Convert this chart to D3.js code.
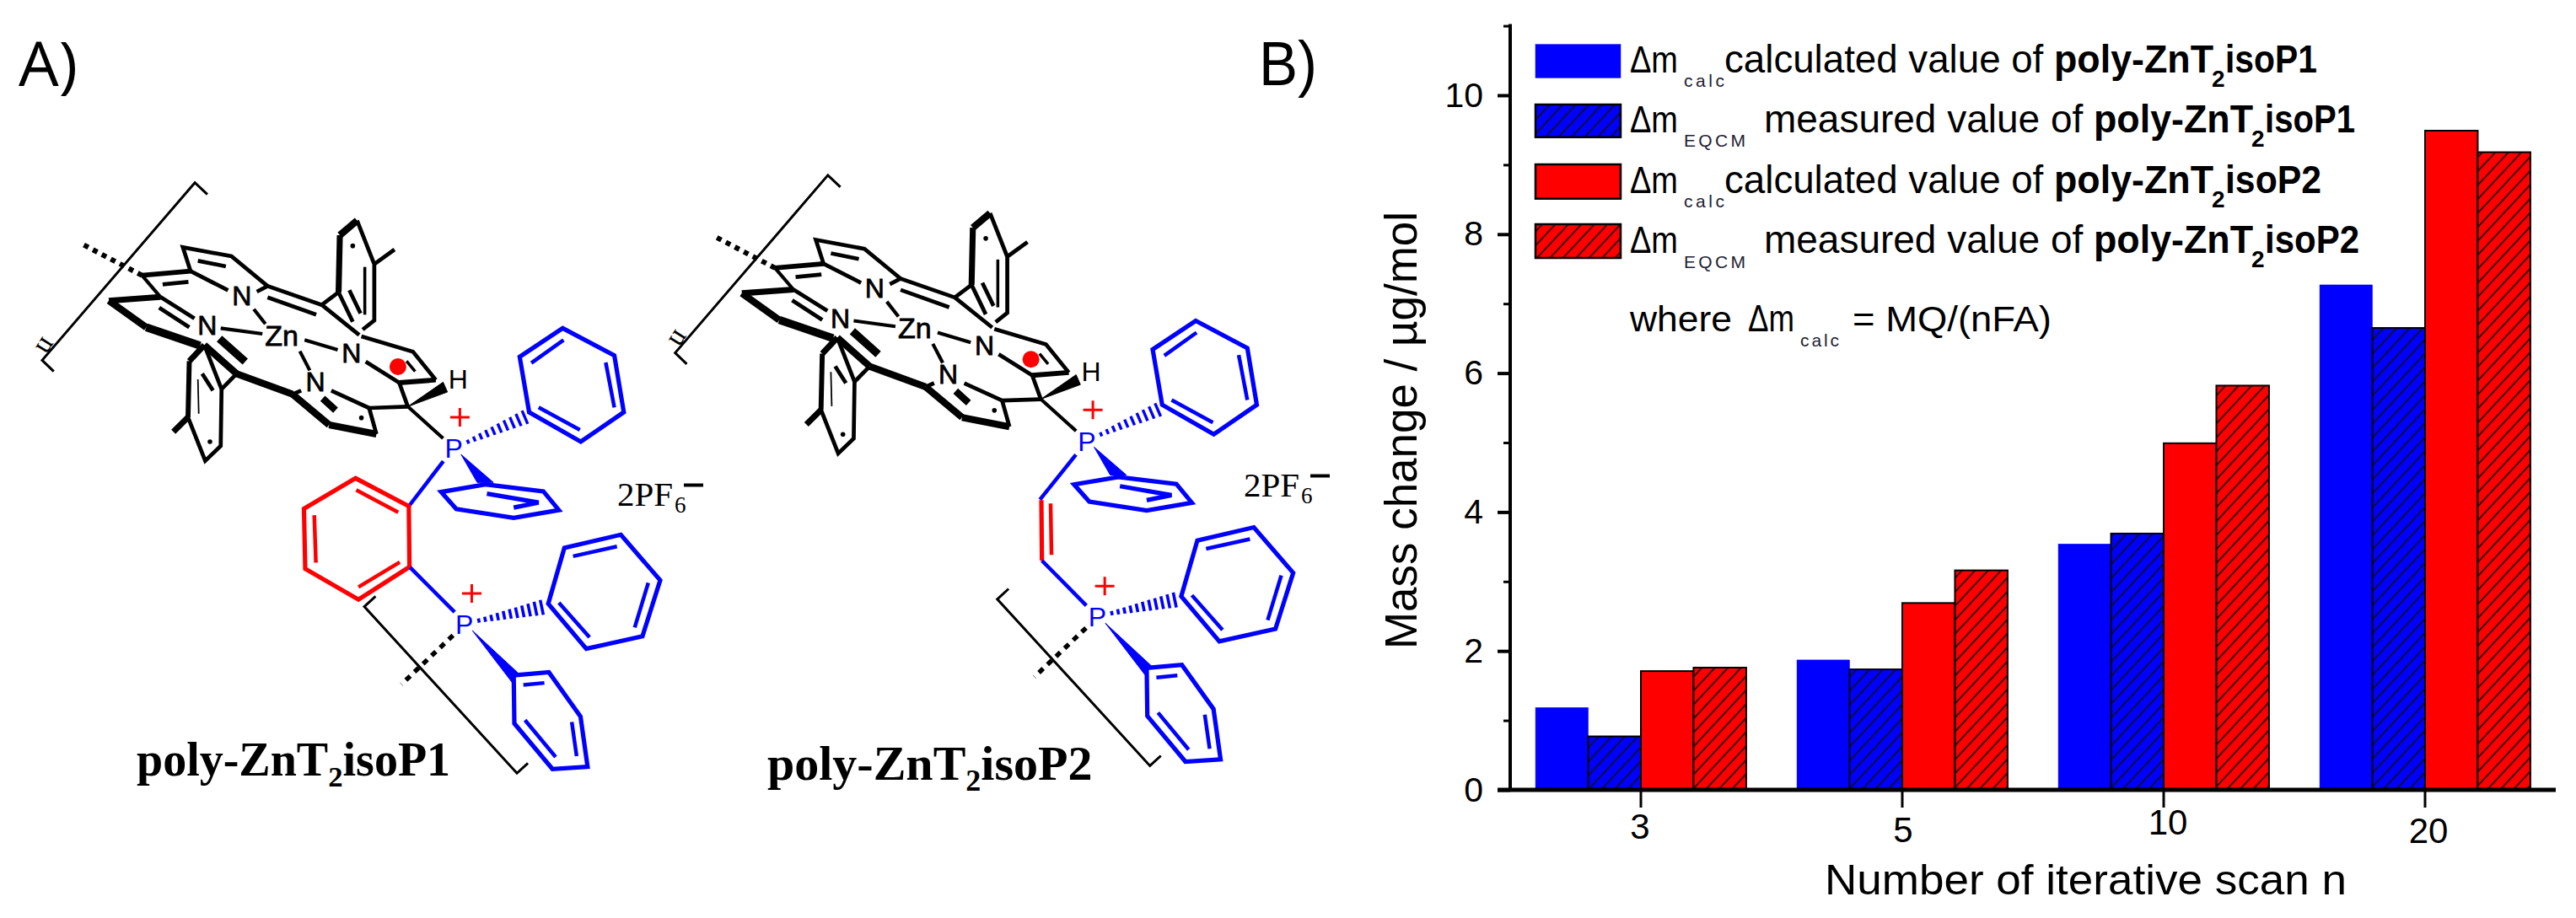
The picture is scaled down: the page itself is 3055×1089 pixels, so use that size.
<!DOCTYPE html>
<html><head><meta charset="utf-8">
<script src="https://cdn.jsdelivr.net/npm/d3@7"></script>
<style>html,body{margin:0;padding:0;background:#fff}svg{display:block}text{white-space:pre}</style>
</head><body><svg id="c" width="3055" height="1089" xmlns="http://www.w3.org/2000/svg"></svg>
<script>
// ---- chart data ----
const categories = ["3","5","10","20"];
const calcP1 = [1.185,1.87,3.54,7.27];
const eqcmP1 = [0.77,1.735,3.69,6.65];
const calcP2 = [1.71,2.69,4.99,9.49];
const eqcmP2 = [1.76,3.16,5.82,9.18];
const majorTicks = [0,2,4,6,8,10];
const minorTicks = [1,3,5,7,9,11];
const seriesNames = ["calcP1","eqcmP1","calcP2","eqcmP2"];
const seriesValues = [calcP1,eqcmP1,calcP2,eqcmP2];
const seriesColors = ["#0000ff","#0000ff","#ff0000","#ff0000"];
const seriesHatched = [false,true,false,true];
const legendSubs = ["calc","EQCM","calc","EQCM"];
const legendWords = ["calculated value of ","measured value of ","calculated value of ","measured value of "];
const legendPolymers = ["isoP1","isoP1","isoP2","isoP2"];

const SANS = "'Liberation Sans',Arial,sans-serif", SERIF = "'Liberation Serif','Times New Roman',serif";
const svg = d3.select("#c");
const defs = svg.append("defs");
[["hb","#0000ff"],["hr","#ff0000"]].forEach(([id,col])=>{
  const p = defs.append("pattern").attr("id",id).attr("patternUnits","userSpaceOnUse")
    .attr("width",11.3).attr("height",11.3).attr("patternTransform","rotate(43)");
  p.append("rect").attr("width",11.3).attr("height",11.3).attr("fill",col);
  p.append("line").attr("x1",5).attr("x2",5).attr("y1",0).attr("y2",11.3).attr("stroke","#111").attr("stroke-width",1.7);
});
const fillOf = i => seriesHatched[i] ? (seriesColors[i]==="#0000ff"?"url(#hb)":"url(#hr)") : seriesColors[i];
const strokeOf = i => i===0 ? "#0000ff" : "#000";

// ---- chart ----
const x = d3.scaleBand().domain(categories).range([1791,3031]).paddingInner(0.194).paddingOuter(0.097);
const xs = d3.scaleBand().domain(seriesNames).range([0,x.bandwidth()]);
const y = d3.scaleLinear().domain([0,11]).range([937,30.6]);
const chart = svg.append("g");
seriesNames.forEach((s,i)=>{
  chart.append("g").selectAll("rect").data(seriesValues[i]).join("rect")
    .attr("x",(d,k)=>x(categories[k])+xs(s)).attr("width",xs.bandwidth())
    .attr("y",d=>y(d)).attr("height",d=>y(0)-y(d))
    .attr("fill",fillOf(i)).attr("stroke",strokeOf(i)).attr("stroke-width",i===0?0.5:2);
});
// y axis
const yMinor = chart.append("g").attr("transform","translate(1791,0)")
  .call(d3.axisLeft(y).tickValues(minorTicks).tickSize(8).tickFormat(""));
yMinor.selectAll("line").attr("stroke","#000").attr("stroke-width",3);
yMinor.select(".domain").remove();
const yAxis = chart.append("g").attr("transform","translate(1791,0)")
  .call(d3.axisLeft(y).tickValues(majorTicks).tickSize(15).tickPadding(17).tickSizeOuter(0));
yAxis.selectAll("line").attr("stroke","#000").attr("stroke-width",4);
yAxis.select(".domain").attr("stroke","#000").attr("stroke-width",4).attr("d",`M0,${y(0)}V${y(11)-2}`);
yAxis.selectAll("text").attr("font-family",SANS).attr("font-size",41).attr("fill","#000");
// x axis
const xAxis = chart.append("g").attr("transform",`translate(0,${y(0)})`)
  .call(d3.axisBottom(x).tickSize(21).tickSizeOuter(0));
xAxis.select(".domain").attr("stroke","#000").attr("stroke-width",5).attr("d","M1776,0H3031");
xAxis.selectAll("line").attr("stroke","#000").attr("stroke-width",3);
const xLabelNudge = {"3":[-1,58],"5":[1,61.5],"10":[5,53],"20":[4,63]};
xAxis.selectAll("text").attr("font-family",SANS).attr("font-size",42).attr("fill","#000")
  .attr("dy",0).attr("y",d=>xLabelNudge[d][1]).attr("dx",d=>xLabelNudge[d][0]);

const txt = (o)=>svg.append("text").attr("x",o.x).attr("y",o.y).attr("font-family",o.f||SANS)
  .attr("font-size",o.s).attr("font-weight",o.w||"normal").attr("fill",o.c||"#000").text(o.t);
txt({x:2164,y:1061,s:49.5,t:"Number of iterative scan n"}).attr("textLength",619).attr("lengthAdjust","spacingAndGlyphs");
svg.append("text").attr("transform","translate(1680,770) rotate(-90)").attr("font-family",SANS)
  .attr("font-size",54).attr("fill","#000").attr("textLength",519).attr("lengthAdjust","spacingAndGlyphs")
  .text("Mass change / µg/mol");

// ---- legend ----
const legendTops = [52.7,124,195,266], legendBottoms=[92.3,162.7,235.7,306], legendBase=[85.7,156.5,228.6,300];
const legendEnds=[2748,2793,2753,2798];
seriesNames.forEach((s,i)=>{
  svg.append("rect").attr("x",1821).attr("width",101).attr("y",legendTops[i]).attr("height",legendBottoms[i]-legendTops[i])
    .attr("fill",fillOf(i)).attr("stroke",strokeOf(i)).attr("stroke-width",i===0?0.5:2.5);
  const b = legendBase[i];
  txt({x:1933,y:b,s:45,t:"Δm"}).attr("textLength",57).attr("lengthAdjust","spacingAndGlyphs");
  const wide = legendSubs[i]==="EQCM";
  txt({x:1997,y:b+17.5,s:21,t:legendSubs[i],c:"#223"}).attr("textLength",wide?73:48);
  const start = wide?2092:2045, boldStart = wide?2483:2436;
  txt({x:start,y:b,s:45.5,t:legendWords[i]}).attr("textLength",boldStart-start).attr("lengthAdjust","spacingAndGlyphs");
  txt({x:boldStart,y:b,s:45.5,w:"bold",t:"poly-ZnT"}).attr("textLength",189).attr("lengthAdjust","spacingAndGlyphs");
  txt({x:boldStart+187,y:b+17,s:28,w:"bold",t:"2"});
  txt({x:boldStart+203,y:b,s:45.5,w:"bold",t:legendPolymers[i]}).attr("textLength",legendEnds[i]-boldStart-203).attr("lengthAdjust","spacingAndGlyphs");
});
txt({x:1933,y:393,s:43,t:"where"}).attr("textLength",121).attr("lengthAdjust","spacingAndGlyphs");
txt({x:2073,y:393,s:45,t:"Δm"}).attr("textLength",55).attr("lengthAdjust","spacingAndGlyphs");
txt({x:2135,y:410.5,s:21,t:"calc",c:"#223"}).attr("textLength",46);
txt({x:2197,y:393,s:43,t:"= MQ/(nFA)"}).attr("textLength",236).attr("lengthAdjust","spacingAndGlyphs");

// panel letters
txt({x:22,y:102,s:74,t:"A)"}).attr("textLength",70).attr("lengthAdjust","spacingAndGlyphs").attr("font-family","'Open Sans',sans-serif");
txt({x:1493,y:101,s:74,t:"B)"}).attr("textLength",69).attr("lengthAdjust","spacingAndGlyphs");

// ---- molecules (structure diagrams) ----
const A = ([a,b])=>[a/1.96,100+b/3];      // upper sketch frame
const C = ([a,b])=>[300+a/2.613,500+b/3.015]; // lower sketch frame
const D = ([a,b])=>[1040+a/3-750.7,520+b/3+8.8]; // linker frame of molecule 2
const line2 = d3.line();
const BLUE_RING = 5.2, BLUE_INNER = 4.5, BLACK_GAIN = 1.18;
function seg(g,F,pts,col,w,extra){
  const p=g.append("path").attr("d",line2(pts.map(F))).attr("fill","none").attr("stroke",col).attr("stroke-width",w)
    .attr("stroke-linejoin","miter").attr("stroke-linecap","butt");
  if(extra) p.attr("stroke-dasharray",extra);
  return p;
}
function poly(g,F,pts,col,w){ g.append("path").attr("d",line2(pts.map(F))+"Z").attr("fill","none").attr("stroke",col).attr("stroke-width",w).attr("stroke-linejoin","miter"); }
function wedge(g,F,pts,col){ g.append("path").attr("d",line2(pts.map(F))+"Z").attr("fill",col).attr("stroke",col).attr("stroke-width",1); }
function hashes(g,F,a,b,n,w0,w1,col,t){
  const [ax,ay]=F(a),[bx,by]=F(b),dx=bx-ax,dy=by-ay,L=Math.hypot(dx,dy),ux=-dy/L,uy=dx/L;
  for(let i=0;i<n;i++){const f=i/(n-1),cx=ax+dx*f,cy=ay+dy*f,h=(w0+(w1-w0)*f)/2;
    g.append("line").attr("x1",cx-ux*h).attr("y1",cy-uy*h).attr("x2",cx+ux*h).attr("y2",cy+uy*h).attr("stroke",col).attr("stroke-width",t);}
}
function label(g,F,p,t,s,col,sw){
  const [a,b]=F(p);
  g.append("text").attr("x",a).attr("y",b).attr("text-anchor","middle").attr("font-family",SANS).attr("font-size",s)
    .attr("fill",col).attr("stroke",col).attr("stroke-width",sw||0).text(t);
}
function plus(g,F,c,h,v){
  const [a,b]=F(c);
  g.append("path").attr("d",`M${a-h},${b}H${a+h}M${a},${b-v}V${b+v}`).attr("stroke","#ff0000").attr("stroke-width",3).attr("fill","none");
}
const blackBonds = [
 [[[330,680],[443,665]],5],[[[443,665],[425,580],[538,612],[622,718]],4],[[[443,665],[530,733]],4],
 [[[460,628],[525,648]],4],[[[378,712],[438,703]],4],[[[330,680],[373,757]],3.5],
 [[[597,738],[622,718],[748,785]],4],[[[622,758],[735,820]],4],[[[748,785],[835,892]],4],
 [[[748,785],[787,740]],4],[[[787,740],[790,537]],6],[[[790,537],[830,485]],7],[[[830,485],[870,640],[870,840],[843,873]],4],
 [[[787,740],[820,845]],4],[[[812,733],[838,815]],4],[[[848,650],[848,820]],3],[[[870,640],[917,588]],4],
 [[[840,897],[960,952],[1013,1052]],4],[[[1013,1052],[928,1062]],5],[[[928,1062],[850,987]],4],[[[945,985],[965,1022]],3],
 [[[928,1062],[948,1147]],4],[[[948,1147],[858,1152]],4],[[[948,1147],[1030,1260]],3.5],
 [[[858,1152],[875,1245]],4],[[[875,1245],[765,1212]],7],[[[765,1212],[680,1103]],7],[[[680,1103],[550,1030]],7],
 [[[680,1103],[700,1090]],4],[[[858,1152],[770,1090]],4],[[[750,1118],[780,1160]],7],
 [[[590,800],[617,853]],3.5],[[[513,868],[610,888]],3.5],[[[708,910],[785,945]],3.5],[[[697,950],[720,1018]],3.5],
 [[[373,757],[253,770]],6],[[[253,770],[340,865]],7],[[[340,865],[465,930]],8],[[[373,757],[452,833]],4],[[[370,795],[440,865]],4],
 [[[510,905],[570,987]],8],[[[475,928],[550,1030]],7],[[[550,1030],[515,1085]],4],[[[475,928],[440,985]],6],[[[475,928],[515,1085]],4],
 [[[440,985],[437,1185]],5],[[[515,1085],[513,1287],[477,1340],[437,1185]],4],[[[470,1030],[495,1090]],4],[[[460,1050],[462,1172]],1.5],
 [[[437,1185],[403,1237]],6]
];
const blackDots = [[820,575],[488,1272],[840,1187]];
const nitrogenLabels = [[562,785],[482,892],[817,990],[733,1092]];
function molecule(dx,dy,isP1){
  const g = svg.append("g").attr("transform",`translate(${dx},${dy})`);
  seg(g,A,[[482,392],[453,350],[98,982],[125,1022]],"#000",3);
  seg(g,A,[[195,572],[330,680]],"#000",6,"6 6");
  blackBonds.forEach(([p,w])=>seg(g,A,p,"#000",w*BLACK_GAIN));
  blackDots.forEach(p=>{const [a,b]=A(p);g.append("circle").attr("cx",a).attr("cy",b).attr("r",2.8).attr("fill","#000");});
  nitrogenLabels.forEach(p=>label(g,A,p,"N",32,"#000",0.8));
  label(g,A,[655,929],"Zn",34,"#000",0.8);
  const rd=A([925,1005]);
  g.append("circle").attr("cx",rd[0]).attr("cy",rd[1]).attr("r",10).attr("fill","#ff0000");
  wedge(g,A,[[948,1147],[1030,1060],[1040,1095]],"#000");
  label(g,A,[1065,1082],"H",32,"#000");
  label(g,A,[1055,1330],"P",32,"#0000ff");
  plus(g,A,[1069,1185],11.5,11);
  // phenyl 1
  poly(g,A,[[1308,868],[1428,965],[1450,1167],[1350,1272],[1230,1167],[1208,970]],"#0000ff",BLUE_RING);
  seg(g,A,[[1235,992],[1310,910]],"#0000ff",BLUE_INNER);seg(g,A,[[1408,990],[1428,1150]],"#0000ff",BLUE_INNER);seg(g,A,[[1252,1150],[1348,1230]],"#0000ff",BLUE_INNER);
  hashes(g,A,[1088,1272],[1220,1185],10,5,17,"#0000ff",3.4);
  // phenyl 2 (solid wedge)
  wedge(g,C,[[645,118],[695,218],[745,218]],"#0000ff");
  poly(g,C,[[720,225],[900,250],[948,317],[808,345],[630,313],[583,252]],"#0000ff",BLUE_RING);
  seg(g,C,[[725,258],[885,290],[808,308]],"#0000ff",BLUE_RING);
  // lower phosphonium
  label(g,C,[655,760],"P",32,"#0000ff");
  plus(g,C,[678,615],11.5,11);
  hashes(g,C,[700,712],[895,665],11,5,18,"#0000ff",3.6);
  poly(g,C,[[915,652],[965,452],[1140,405],[1262,568],[1207,768],[1033,813]],"#0000ff",BLUE_RING);
  seg(g,C,[[992,482],[1128,447]],"#0000ff",BLUE_INNER);seg(g,C,[[1225,577],[1183,737]],"#0000ff",BLUE_INNER);seg(g,C,[[948,648],[1043,772]],"#0000ff",BLUE_INNER);
  seg(g,C,[[620,765],[460,940]],"#000",5.5,"7 7");
  wedge(g,C,[[680,748],[803,933],[822,900]],"#0000ff");
  poly(g,C,[[808,908],[917,897],[1015,1055],[1037,1235],[928,1243],[810,1080]],"#0000ff",BLUE_RING);
  seg(g,C,[[838,942],[903,935]],"#0000ff",BLUE_INNER);seg(g,C,[[988,1075],[1003,1197]],"#0000ff",BLUE_INNER);seg(g,C,[[843,1068],[938,1200]],"#0000ff",BLUE_INNER);
  seg(g,C,[[380,625],[345,662],[818,1258],[852,1222]],"#000",3);
  if(isP1){
    seg(g,C,[[590,142],[483,303]],"#0000ff",4.5);
    poly(g,C,[[483,303],[318,203],[158,312],[162,527],[327,637],[485,520]],"#ff0000",BLUE_RING);
    seg(g,C,[[320,245],[450,325]],"#ff0000",BLUE_INNER);seg(g,C,[[190,335],[195,505]],"#ff0000",BLUE_INNER);seg(g,C,[[327,592],[455,503]],"#ff0000",BLUE_INNER);
    seg(g,C,[[487,522],[625,682]],"#0000ff",4.5);
  } else {
    seg(g,D,[[708,58],[580,218]],"#0000ff",4.5);
    seg(g,D,[[585,220],[587,435]],"#ff0000",5.2);
    seg(g,D,[[618,232],[621,415]],"#ff0000",4.5);
    seg(g,D,[[587,435],[745,595]],"#0000ff",4.5);
  }
  const np=A([105,930]);
  g.append("text").attr("transform",`translate(${np[0]},${np[1]}) rotate(122)`).attr("text-anchor","middle")
    .attr("dy","0.25em").attr("font-family",SERIF).attr("font-size",34).attr("fill","#000").text("n");
}
molecule(0,0,true);
molecule(750.7,-8.8,false);

function saltLabel(px,py){
  txt({x:px,y:py,s:41,f:SERIF,t:"2PF"});
  txt({x:px+68,y:py+8,s:27,f:SERIF,t:"6"});
  svg.append("line").attr("x1",px+79).attr("x2",px+102).attr("y1",py-24.5).attr("y2",py-24.5).attr("stroke","#000").attr("stroke-width",4);
}
saltLabel(732,600);
saltLabel(1475,589);

function polyLabel(px,py,s,name){
  txt({x:px,y:py,s:s,w:"bold",f:SERIF,t:"poly-ZnT"});
  const w=4.057*s;
  txt({x:px+w,y:py+13,s:s*0.62,w:"bold",f:SERIF,t:"2"});
  txt({x:px+w+s*0.31,y:py,s:s,w:"bold",f:SERIF,t:name});
}
polyLabel(162,920,56,"isoP1");
polyLabel(910,925,58,"isoP2");
</script></body></html>
